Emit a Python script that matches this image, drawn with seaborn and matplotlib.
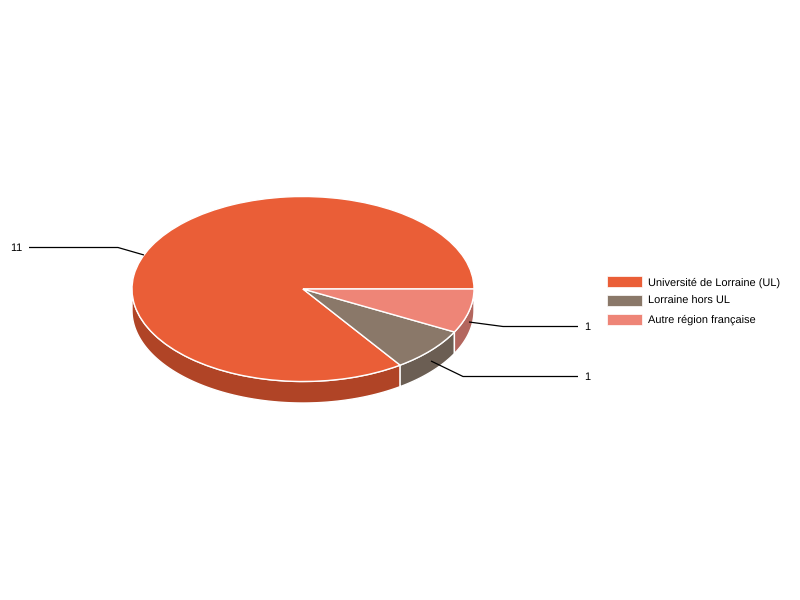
import numpy as np
import matplotlib
matplotlib.use("Agg")
import matplotlib.pyplot as plt
from matplotlib.patches import Patch
import seaborn as sns

categories = ["Université de Lorraine (UL)", "Lorraine hors UL", "Autre région française"]
values = [11, 1, 1]
top_colors = ["#EA5E37", "#8A7869", "#EE8577"]
side_colors = ["#B04426", "#6B5E53", "#B3665E"]

sns.set_theme(style="white")
plt.rcParams["font.family"] = ["Liberation Sans", "DejaVu Sans"]
plt.rcParams["text.hinting"] = "no_hinting"
plt.rcParams["text.hinting_factor"] = 1

W, H = 800, 600
CX, CY, RX, RY, DEPTH = 303.0, 289.0, 171.0, 92.5, 21.5

fig = plt.figure(figsize=(W / 100, H / 100), dpi=100, facecolor="white")
ax = fig.add_axes([(CX - RX) / W, 1 - (CY + RY) / H, 2 * RX / W, 2 * RY / H])

palette = sns.color_palette(top_colors)
side_palette = sns.color_palette(side_colors)

# side wall
d = DEPTH / RY
bounds = np.cumsum([0] + values) / sum(values) * 360
for i in range(len(values)):
    a0, a1 = max(bounds[i], 180), min(bounds[i + 1], 360)
    if a1 <= a0:
        continue
    t = np.radians(np.linspace(a0, a1, 120))
    xs = np.r_[np.cos(t), np.cos(t[::-1])]
    ys = np.r_[np.sin(t), np.sin(t[::-1]) - d]
    ax.fill(xs, ys, facecolor=side_palette[i], edgecolor="white", linewidth=1.0,
            clip_on=False, zorder=1, joinstyle="round")

wedges, _ = ax.pie(values, colors=palette, startangle=0, counterclock=True, radius=1,
                   wedgeprops=dict(edgecolor="white", linewidth=1.0, zorder=2))
for w in wedges:
    w.set_clip_on(False)
ax.set_aspect("auto")
ax.set_xlim(-1, 1)
ax.set_ylim(-1, 1)
ax.axis("off")

# overlay in pixel coordinates for the leader lines and labels
ov = fig.add_axes([0, 0, 1, 1], facecolor="none")
ov.set_xlim(0, W)
ov.set_ylim(H, 0)
ov.axis("off")

leaders = [
    (str(values[0]), [(144, 255), (118, 247.5), (29, 247.5)], (22, 248), "right"),
    (str(values[1]), [(431, 361), (463, 376.5), (578, 376.5)], (584, 377), "left"),
    (str(values[2]), [(469, 322), (503, 326.5), (578, 326.5)], (584, 327), "left"),
]
for label, pts, pos, ha in leaders:
    px, py = zip(*pts)
    ov.plot(px, py, color="black", linewidth=0.9, zorder=5, solid_capstyle="butt")
    ov.text(pos[0], pos[1], label, ha=ha, va="center", fontsize=7.9, color="black")

handles = [Patch(facecolor=c, edgecolor="white", linewidth=0.5, label=l) for c, l in zip(palette, categories)]
fig.legend(handles=handles, loc="upper left", bbox_to_anchor=(606.5 / W, 1 - 276.5 / H),
           frameon=False, fontsize=7.9, borderpad=0, borderaxespad=0, labelcolor="black",
           handlelength=3.2, handleheight=1.1, handletextpad=0.55, labelspacing=0.68)

fig.savefig("out.png", dpi=100, facecolor="white")
